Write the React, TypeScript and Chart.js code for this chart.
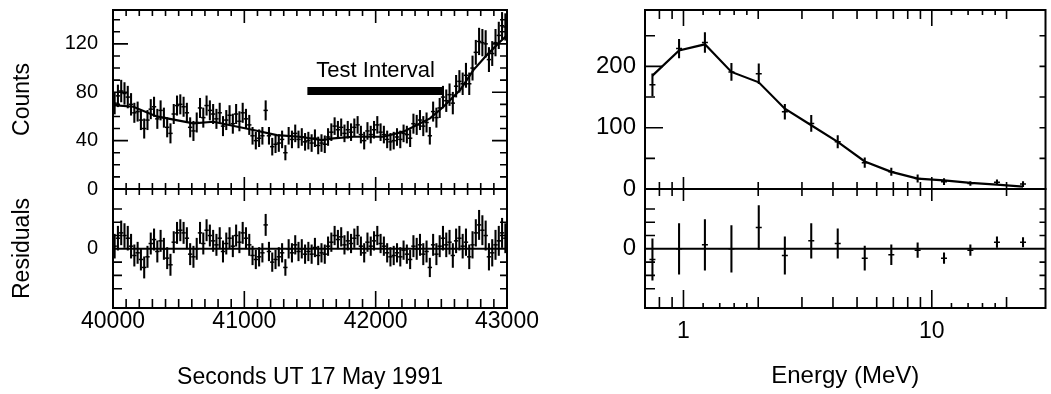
import React, { useEffect, useRef } from 'react';
import { Chart, registerables } from 'chart.js';
Chart.register(...registerables);

const FONT = '"Liberation Sans", Arial, Helvetica, sans-serif';
const INK = '#000';

// ---------------- Left: light curve, 25 s bins starting at 40000 s ----------------
const BIN_START = 40000;
const BIN_WIDTH = 25;
const counts = [
  71, 77, 81, 79, 76, 70, 63, 64, 57, 50,
  57, 66, 68, 58, 65, 59, 51, 46, 62, 69,
  70, 68, 63, 51, 48, 55, 67, 59, 69, 65,
  62, 58, 63, 52, 57, 61, 54, 62, 56, 63,
  58, 53, 44, 40, 42, 44, 65, 44, 35, 37,
  38, 41, 30, 44, 41, 46, 41, 43, 39, 40,
  38, 42, 36, 38, 37, 43, 47, 52, 49, 51,
  46, 49, 47, 51, 53, 45, 40, 48, 45, 49,
  53, 47, 45, 41, 39, 40, 43, 41, 46, 45,
  42, 54, 53, 57, 52, 55, 44, 64, 59, 67,
  76, 73, 78, 71, 85, 89, 87, 94, 87, 100,
  113, 122, 121, 120, 107, 112, 121, 127, 135, 134,
];
const countErr = [
  9, 9, 9, 9, 9, 9, 8, 8, 8, 8,
  8, 8, 8, 8, 8, 8, 8, 8, 8, 8,
  8, 8, 8, 8, 8, 8, 8, 8, 8, 8,
  8, 8, 8, 8, 8, 8, 8, 8, 8, 8,
  8, 8, 7, 7, 7, 7, 8, 7, 7, 7,
  7, 7, 6, 7, 7, 7, 7, 7, 7, 7,
  7, 7, 7, 7, 7, 7, 7, 7, 7, 7,
  7, 7, 7, 7, 7, 7, 7, 7, 7, 7,
  7, 7, 7, 7, 7, 7, 7, 7, 7, 7,
  7, 8, 8, 8, 8, 8, 7, 8, 8, 8,
  9, 9, 9, 9, 9, 9, 9, 10, 9, 10,
  10, 11, 11, 11, 10, 10, 11, 11, 11, 11,
];
const residuals = [
  2, 8, 12, 10, 8, 2, -5, -3, -8, -14,
  -6, 4, 7, -2, 6, 0, -7, -12, 5, 12,
  14, 12, 8, -4, -6, 0, 12, 4, 14, 10,
  6, 3, 8, -2, 4, 8, 2, 10, 5, 12,
  8, 3, -5, -8, -6, -3, 18, -2, -10, -8,
  -6, -3, -14, 0, -3, 3, -2, 0, -4, -2,
  -4, 1, -5, -3, -4, 2, 5, 10, 7, 9,
  3, 6, 4, 8, 10, 2, -3, 5, 2, 6,
  10, 4, 2, -3, -6, -5, -3, -6, -1, -4,
  -8, 2, 0, 3, -4, -2, -14, 3, -4, 2,
  8, 3, 5, -5, 6, 8, 2, 5, -6, 3,
  12, 18, 14, 10, -6, -3, 3, 6, 12, 8,
];
const fitTimes = [40000, 40155, 40333, 40612, 40764, 41069, 41247, 41424, 41589, 41678, 41830, 42059, 42211, 42414, 42516, 42643, 42744, 42846, 42947, 43000];
const fitCounts = [69.4, 68, 60, 54.3, 55.6, 48.8, 44.6, 43.2, 40.5, 41.9, 43.2, 43.2, 47.4, 58.4, 68, 81.8, 98.3, 110.7, 121.7, 127];
const testInterval = [41480, 42515];
const testIntervalLevel = 81;
const testLabel = { text: 'Test Interval', x: 42000, y: 98 };
const timeTickLabels = [40000, 41000, 42000, 43000];
const countTickLabels = [0, 40, 80, 120];
const residTickLabels = [0];

// ---------------- Right: energy spectrum ----------------
const energies = [0.75, 0.96, 1.22, 1.56, 2.01, 2.56, 3.27, 4.18, 5.37, 6.87, 8.77, 11.2, 14.3, 18.3, 23.3];
const specCounts = [170, 229, 239, 191, 188, 126, 107, 77, 43, 28, 17, 12, 9, 11, 8];
const specErr = [18, 15, 16, 14, 16, 12, 13, 10, 8, 6, 6, 5, 3, 4, 4];
const specFit = [185, 226, 236, 191, 174, 131, 104, 77, 45, 28, 17, 14, 10, 7, 4];
const specResid = [-0.8, 0, 0.3, 0, 1.6, -0.5, 0.6, 0.4, -0.7, -0.45, -0.1, -0.7, -0.1, 0.5, 0.5];
const specResidErr = [1.55, 1.9, 1.9, 1.75, 1.65, 1.4, 1.3, 1.1, 0.9, 0.75, 0.55, 0.4, 0.4, 0.4, 0.35];
const energyTickLabels = [1, 10];
const specTickLabels = [0, 100, 200];

// tick-mark positions (decoration)
const steps = (a: number, b: number, s: number, skip: number[] = []) => {
  const out: number[] = [];
  for (let v = a; v <= b + 1e-9; v += s) if (!skip.includes(v)) out.push(v);
  return out;
};
const timeMinor = steps(40100, 42900, 100, [41000, 42000]);
const timeMajor = [41000, 42000];
const countMinor = steps(10, 140, 10, [40, 80, 120]);
const countMajor = [40, 80, 120];
const residMinor = [-30, -20, -10, 10, 20, 30];
const eFine = [1.2, 1.4, 1.6, 1.8, 12, 14, 16, 18];
const eMinor = [0.8, 0.9, 2, 3, 4, 5, 6, 7, 8, 9, 20];
const eMajor = [1, 10];
const specMinor = [50, 150, 250];
const specMajor = [100, 200];
const specResidMinor = [-3, -2, -1, 1, 2, 3];

const binTimes = counts.map((_, i) => BIN_START + BIN_WIDTH * (i + 0.5));

const framePlugin = {
  id: 'frame',
  afterDatasetsDraw(chart: any, _a: any, o: any) {
    const { ctx, chartArea: a } = chart;
    const xs = chart.scales.x;
    const ys = chart.scales.y;
    ctx.save();
    ctx.strokeStyle = INK;
    ctx.lineWidth = 1.6;
    ctx.beginPath();
    (o.top || []).forEach(([vals, len]: [number[], number]) => vals.forEach((v) => {
      const x = xs.getPixelForValue(v); ctx.moveTo(x, a.top); ctx.lineTo(x, a.top + len);
    }));
    (o.bottom || []).forEach(([vals, len]: [number[], number]) => vals.forEach((v) => {
      const x = xs.getPixelForValue(v); ctx.moveTo(x, a.bottom); ctx.lineTo(x, a.bottom - len);
    }));
    (o.left || []).forEach(([vals, len]: [number[], number]) => vals.forEach((v) => {
      const y = ys.getPixelForValue(v); ctx.moveTo(a.left, y); ctx.lineTo(a.left + len, y);
    }));
    (o.right || []).forEach(([vals, len]: [number[], number]) => vals.forEach((v) => {
      const y = ys.getPixelForValue(v); ctx.moveTo(a.right, y); ctx.lineTo(a.right - len, y);
    }));
    ctx.stroke();
    ctx.lineWidth = 2;
    ctx.strokeRect(a.left, a.top, a.right - a.left, a.bottom - a.top);
    if (o.label) {
      ctx.fillStyle = INK;
      ctx.font = `22px ${FONT}`;
      ctx.textAlign = 'center';
      ctx.textBaseline = 'middle';
      ctx.fillText(o.label.text, xs.getPixelForValue(o.label.x), ys.getPixelForValue(o.label.y));
    }
    ctx.restore();
  },
};

const fixW = (w: number) => (s: any) => { s.width = w; s.paddingTop = 0; s.paddingBottom = 0; };
const fixH = (h: number) => (s: any) => { s.height = h; s.paddingLeft = 0; s.paddingRight = 0; };
const setTicks = (vals: number[]) => (s: any) => { s.ticks = vals.map((v) => ({ value: v })); };
const fmt = (v: any) => String(v);

const errorBars = (xs: number[], ys: number[], es: number[], thick: number) => ({
  type: 'bar',
  data: xs.map((x, i) => ({ x, y: [ys[i] - es[i], ys[i] + es[i]] })),
  backgroundColor: INK,
  borderWidth: 0,
  barThickness: thick,
  grouped: false,
});
const crosses = (xs: number[], ys: number[], r: number) => ({
  type: 'scatter',
  data: xs.map((x, i) => ({ x, y: ys[i] })),
  pointStyle: 'line',
  pointRadius: r,
  pointBorderWidth: 1.5,
  pointBorderColor: INK,
  borderColor: INK,
});
const curve = (xs: number[], ys: number[], w: number) => ({
  type: 'line',
  data: xs.map((x, i) => ({ x, y: ys[i] })),
  borderColor: INK,
  borderWidth: w,
  pointRadius: 0,
  tension: 0,
  borderCapStyle: 'butt',
});

const commonOpts = (padding: any, frame: any) => ({
  responsive: false,
  animation: false,
  events: [],
  layout: { padding },
  plugins: { legend: { display: false }, tooltip: { enabled: false }, frame },
});

const yAxis = (min: number, max: number, w: number, labels: number[], size: number, pad: number, title?: string) => ({
  type: 'linear',
  min, max,
  afterFit: fixW(w),
  afterBuildTicks: setTicks(labels),
  grid: { display: false, drawTicks: false },
  border: { display: false },
  ticks: { font: { family: FONT, size }, color: INK, padding: pad, callback: fmt },
  title: title ? { display: true, text: title, color: INK, font: { family: FONT, size: 23 }, padding: { top: 9 } } : { display: false },
});

const xAxisShown = (type: string, min: number, max: number, labels: number[], pad: number, title: string, titleSize: number) => ({
  type, min, max, offset: false,
  afterFit: fixH(86),
  afterBuildTicks: setTicks(labels),
  grid: { display: false, drawTicks: false },
  border: { display: false },
  ticks: { font: { family: FONT, size: 23 }, color: INK, padding: pad, callback: fmt, autoSkip: false, maxRotation: 0 },
  title: { display: true, text: title, color: INK, font: { family: FONT, size: titleSize }, padding: { bottom: 3 } },
});

function makeConfigs(): any[] {
  const lc = {
    type: 'scatter',
    data: {
      datasets: [
        errorBars(binTimes, counts, countErr, 1.4),
        crosses(binTimes, counts, 2.2),
        curve(fitTimes, fitCounts, 2.2),
        curve(testInterval, [testIntervalLevel, testIntervalLevel], 8),
      ],
    },
    options: {
      ...commonOpts({ top: 10, right: 53, bottom: 11, left: 0 }, {
        top: [[timeMinor, 6], [timeMajor, 13]],
        bottom: [[timeMinor, 6], [timeMajor, 12]],
        left: [[countMinor, 7], [countMajor, 15]],
        right: [[countMinor, 7], [countMajor, 15]],
        label: testLabel,
      }),
      scales: {
        x: { type: 'linear', min: 40000, max: 43000, display: false, offset: false },
        y: yAxis(0, 148, 113, countTickLabels, 20, 15, 'Counts'),
      },
    },
    plugins: [framePlugin],
  };
  const lr = {
    type: 'scatter',
    data: {
      datasets: [
        curve([40000, 43000], [0, 0], 2),
        errorBars(binTimes, residuals, countErr, 1.4),
        crosses(binTimes, residuals, 2.2),
      ],
    },
    options: {
      ...commonOpts({ top: 9, right: 53, bottom: 0, left: 0 }, {
        top: [[timeMinor, 6], [timeMajor, 12]],
        bottom: [[timeMinor, 9], [timeMajor, 17]],
        left: [[residMinor, 9]],
        right: [[residMinor, 7]],
      }),
      scales: {
        x: xAxisShown('linear', 40000, 43000, timeTickLabels, 0, 'Seconds UT 17 May 1991', 23),
        y: yAxis(-44.5, 45, 113, residTickLabels, 20, 15, 'Residuals'),
      },
    },
    plugins: [framePlugin],
  };
  const rc = {
    type: 'scatter',
    data: {
      datasets: [
        errorBars(energies, specCounts, specErr, 1.4),
        crosses(energies, specCounts, 3),
        curve(energies, specFit, 2.2),
      ],
    },
    options: {
      ...commonOpts({ top: 10, right: 1, bottom: 11, left: 0 }, {
        top: [[eFine, 5], [eMinor, 9], [eMajor, 16]],
        bottom: [[eMinor, 7], [eMajor, 12]],
        left: [[specMinor, 10], [specMajor, 18]],
        right: [[specMinor, 6], [specMajor, 6]],
      }),
      scales: {
        x: { type: 'logarithmic', min: 0.7, max: 28.7, display: false, offset: false },
        y: yAxis(0, 292, 85, specTickLabels, 24, 9),
      },
    },
    plugins: [framePlugin],
  };
  const rr = {
    type: 'scatter',
    data: {
      datasets: [
        curve([0.7, 28.7], [0, 0], 2),
        errorBars(energies, specResid, specResidErr, 1.4),
        crosses(energies, specResid, 3),
      ],
    },
    options: {
      ...commonOpts({ top: 9, right: 1, bottom: 0, left: 0 }, {
        top: [[eMinor, 7], [eMajor, 12]],
        bottom: [[eFine, 5], [eMinor, 11], [eMajor, 18]],
        left: [[specResidMinor, 10]],
        right: [[specResidMinor, 6]],
      }),
      scales: {
        x: xAxisShown('logarithmic', 0.7, 28.7, energyTickLabels, 10, 'Energy (MeV)', 24),
        y: yAxis(-4.45, 4.5, 85, residTickLabels, 24, 9),
      },
    },
    plugins: [framePlugin],
  };
  return [lc, lr, rc, rr];
}

const BOXES = [
  { left: 0, top: 0, width: 560, height: 200 },
  { left: 0, top: 180, width: 560, height: 214 },
  { left: 560, top: 0, width: 491, height: 200 },
  { left: 560, top: 180, width: 491, height: 214 },
];

export default function App() {
  const refs = [useRef<HTMLCanvasElement>(null), useRef<HTMLCanvasElement>(null), useRef<HTMLCanvasElement>(null), useRef<HTMLCanvasElement>(null)];
  useEffect(() => {
    const cfgs = makeConfigs();
    const charts = cfgs.map((cfg, i) => new Chart(refs[i].current as HTMLCanvasElement, cfg));
    return () => charts.forEach((c) => c.destroy());
  }, []);
  return (
    <div style={{ position: 'absolute', left: 0, top: 0, width: 1051, height: 394, background: '#fff', overflow: 'hidden' }}>
      {BOXES.map((b, i) => (
        <div key={i} style={{ position: 'absolute', left: b.left, top: b.top, width: b.width, height: b.height }}>
          <canvas ref={refs[i]} width={b.width} height={b.height} style={{ width: b.width, height: b.height, display: 'block' }} />
        </div>
      ))}
    </div>
  );
}
